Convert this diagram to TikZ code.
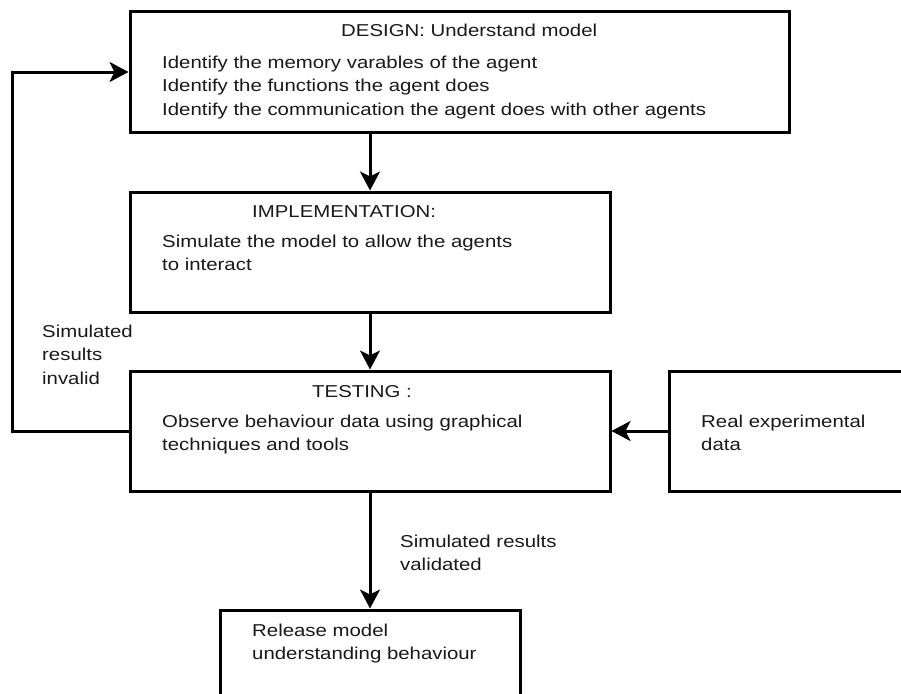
\documentclass[tikz,border=0pt]{standalone}
\usepackage{fontspec}
\setmainfont{Liberation Sans}
\usetikzlibrary{arrows.meta}
\newcommand{\wx}[1]{\scalebox{1.185}[1]{#1}}
\newcommand{\txtlines}[1]{\wx{\begin{tabular}[t]{@{}l@{}}#1\end{tabular}}}
\begin{document}
\begin{tikzpicture}[x=1pt,y=-1pt,
  box/.style={draw=black, line width=3pt, inner sep=0pt, outer sep=1.5pt},
  lbl/.style={anchor=base west, inner sep=0pt, text=black!90, font=\fontsize{17.2}{23.7}\selectfont},
  arr/.style={line width=3pt, -{Stealth[length=19pt,width=20pt,inset=5pt]}}]
\useasboundingbox (0,0) rectangle (901,693);
\clip (0,0) rectangle (901,693);
% boxes
\node[box, minimum width=659pt, minimum height=120pt] (design) at (459.5,72) {};
\node[box, minimum width=480pt, minimum height=120pt] (impl) at (370,252) {};
\node[box, minimum width=480pt, minimum height=120pt] (test) at (370,431) {};
\node[box, minimum width=260pt, minimum height=120pt] (real) at (799,431) {};
\node[box, minimum width=300pt, minimum height=120pt] (rel) at (370,670) {};
% texts
\node[lbl] (t1) at (341,37) {\wx{DESIGN: Understand model}};
\node[lbl] (t1b) at (162,68) {\txtlines{Identify the memory varables of the agent\\Identify the functions the agent does\\Identify the communication the agent does with other agents}};
\node[lbl] (t2) at (252,217) {\wx{IMPLEMENTATION:}};
\node[lbl] (t2b) at (162,247) {\txtlines{Simulate the model to allow the agents\\to interact}};
\node[lbl] (t3) at (312,397) {\wx{TESTING :}};
\node[lbl] (t3b) at (162,427) {\txtlines{Observe behaviour data using graphical\\techniques and tools}};
\node[lbl] (t4) at (701,427) {\txtlines{Real experimental\\data}};
\node[lbl] (t5) at (252,636) {\txtlines{Release model\\understanding behaviour}};
\node[lbl] (l1) at (42,337) {\txtlines{Simulated\\results\\invalid}};
\node[lbl] (l2) at (400,547) {\txtlines{Simulated results\\validated}};
% connectors
\draw[arr] (design.south -| impl.north) -- (impl.north);
\draw[arr] (impl.south) -- (test.north);
\draw[arr] (test.south) -- (rel.north);
\draw[arr] (real.west) -- (test.east);
\draw[arr] (test.west) -- ++(-116.5,0) |- (design.west);
\end{tikzpicture}
\end{document}
